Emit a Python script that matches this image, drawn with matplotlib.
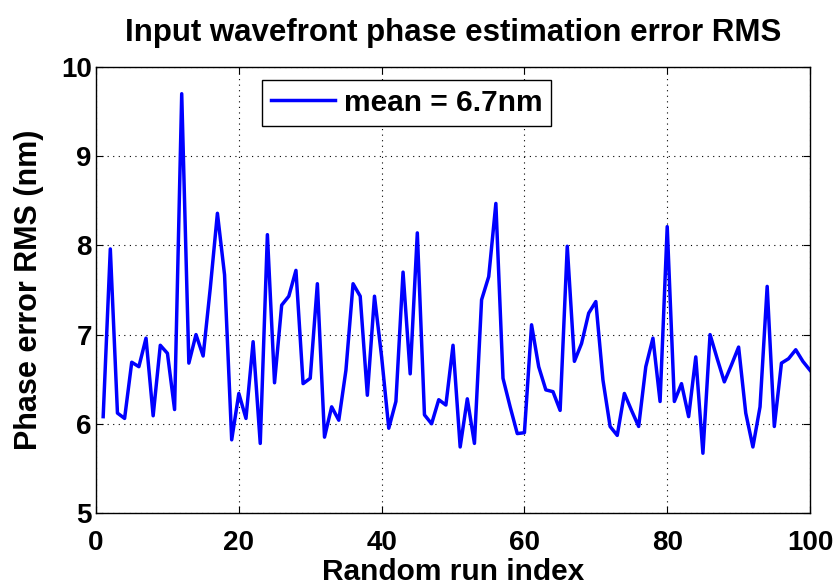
import numpy as np
import matplotlib
matplotlib.use("Agg")
import matplotlib.pyplot as plt

plt.rcParams["font.family"] = ["Liberation Sans", "DejaVu Sans"]
plt.rcParams["font.weight"] = "bold"
plt.rcParams["axes.labelweight"] = "bold"

# RMS phase error of each random run (nm)
run_index = np.arange(1, 101)
rms_error = [
    6.08, 7.96, 6.12, 6.06, 6.69, 6.64, 6.96, 6.09, 6.88, 6.79,
    6.16, 9.70, 6.68, 7.00, 6.76, 7.52, 8.36, 7.67, 5.82, 6.34,
    6.06, 6.92, 5.78, 8.12, 6.46, 7.33, 7.43, 7.72, 6.45, 6.51,
    7.57, 5.85, 6.19, 6.04, 6.60, 7.57, 7.43, 6.32, 7.43, 6.75,
    5.95, 6.25, 7.70, 6.56, 8.14, 6.10, 6.00, 6.27, 6.21, 6.88,
    5.74, 6.28, 5.78, 7.39, 7.65, 8.47, 6.51, 6.19, 5.89, 5.90,
    7.11, 6.64, 6.38, 6.36, 6.15, 7.99, 6.70, 6.90, 7.24, 7.37,
    6.49, 5.97, 5.87, 6.34, 6.15, 5.97, 6.64, 6.96, 6.25, 8.21,
    6.25, 6.45, 6.08, 6.75, 5.67, 7.00, 6.73, 6.47, 6.66, 6.86,
    6.12, 5.74, 6.19, 7.54, 5.97, 6.68, 6.73, 6.83, 6.70, 6.60,
]
xticks = [0, 20, 40, 60, 80, 100]
yticks = [5, 6, 7, 8, 9, 10]

fig = plt.figure(figsize=(8.38, 5.86), dpi=100)
ax = fig.add_axes([0.1146, 0.1246, 0.852, 0.7611])

ax.plot(run_index, rms_error, color="#0000ff", linewidth=2.5,
        label="mean = %.1fnm" % np.mean(rms_error))

ax.set_xlim(0, 100)
ax.set_ylim(5, 10)
ax.set_xticks(xticks)
ax.set_yticks(yticks)
ax.tick_params(direction="in", length=5, width=0.8, top=True, right=True,
               labelsize=20)
ax.tick_params(axis="x", pad=12)
ax.tick_params(axis="y", pad=3)
ax.grid(True, color="black", linestyle=(0, (1, 4)), linewidth=0.8)
for s in ax.spines.values():
    s.set_linewidth(1.0)

ax.set_title("Input wavefront phase estimation error RMS", fontsize=22.5,
             fontweight="bold", pad=19)
ax.set_xlabel("Random run index", fontsize=21.5, labelpad=1.5)
ax.set_ylabel("Phase error RMS (nm)", fontsize=22, labelpad=12)

leg = ax.legend(loc="upper left", bbox_to_anchor=(0.232, 0.971),
                fontsize=21.5, fancybox=False, framealpha=1, edgecolor="black",
                borderaxespad=0, handlelength=2.15, handletextpad=0.3,
                borderpad=0.3)
leg.get_frame().set_linewidth(1.0)

fig.savefig("out.png", dpi=100)
